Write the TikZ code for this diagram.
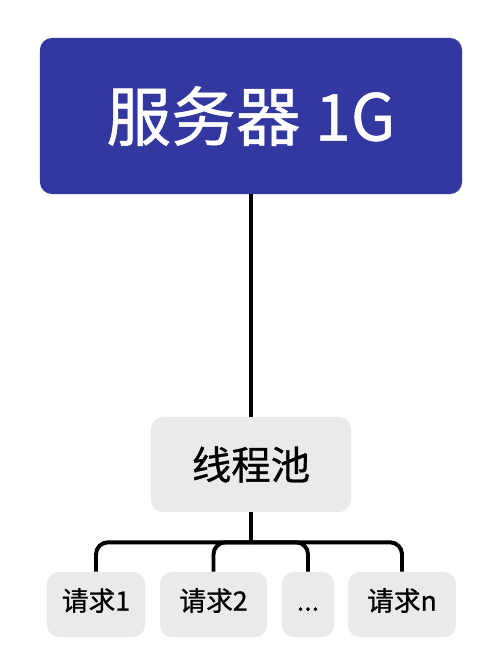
\documentclass[tikz,border=0pt]{standalone}
\usepackage{fontspec}
\usepackage{tikz}
\usetikzlibrary{positioning}
\newfontfamily\cjk[FakeBold=0.8]{Noto Sans CJK SC}
\definecolor{ServerBlue}{HTML}{32389F}
\definecolor{PoolGrey}{HTML}{EAE9EB}

\begin{document}
\begin{tikzpicture}[x=0.025cm,y=-0.025cm,
  box/.style={rounded corners=0.3cm,fill=PoolGrey,inner sep=0pt,font=\cjk},
  req/.style={box,minimum height=1.625cm,text height=0.94em,text depth=0.06em,font=\cjk\fontsize{19}{22}\selectfont},
  link/.style={line width=2.8pt,black}]
\useasboundingbox (0,0) rectangle (504,669);
\node[box,fill=ServerBlue,text=white,minimum width=10.55cm,minimum height=3.9cm,font=\cjk\fontsize{46}{52}\selectfont] (server) at (251,116) {服务器 1G};
\node[box,minimum width=5cm,minimum height=2.375cm,font=\cjk\fontsize{28}{32}\selectfont] (pool) at (251,464.5) {线程池};
\node[req,minimum width=2.45cm] (r1) at (96,604.5) {请求1};
\node[req,minimum width=2.675cm] (r2) at (213.5,604.5) {请求2};
\node[req,minimum width=1.3cm] (rdots) at (308,604.5) {...};
\node[req,minimum width=2.7cm] (rn) at (402,604.5) {请求n};
\path (pool.south) ++(0,30) coordinate (bus);
\draw[link] (server.south) -- (pool.north);
\draw[link] (pool.south) -- (bus);
\foreach \r in {r1,r2,rdots,rn}{\draw[link,rounded corners=0.3cm] (bus) -| (\r.north);}
\end{tikzpicture}
\end{document}
